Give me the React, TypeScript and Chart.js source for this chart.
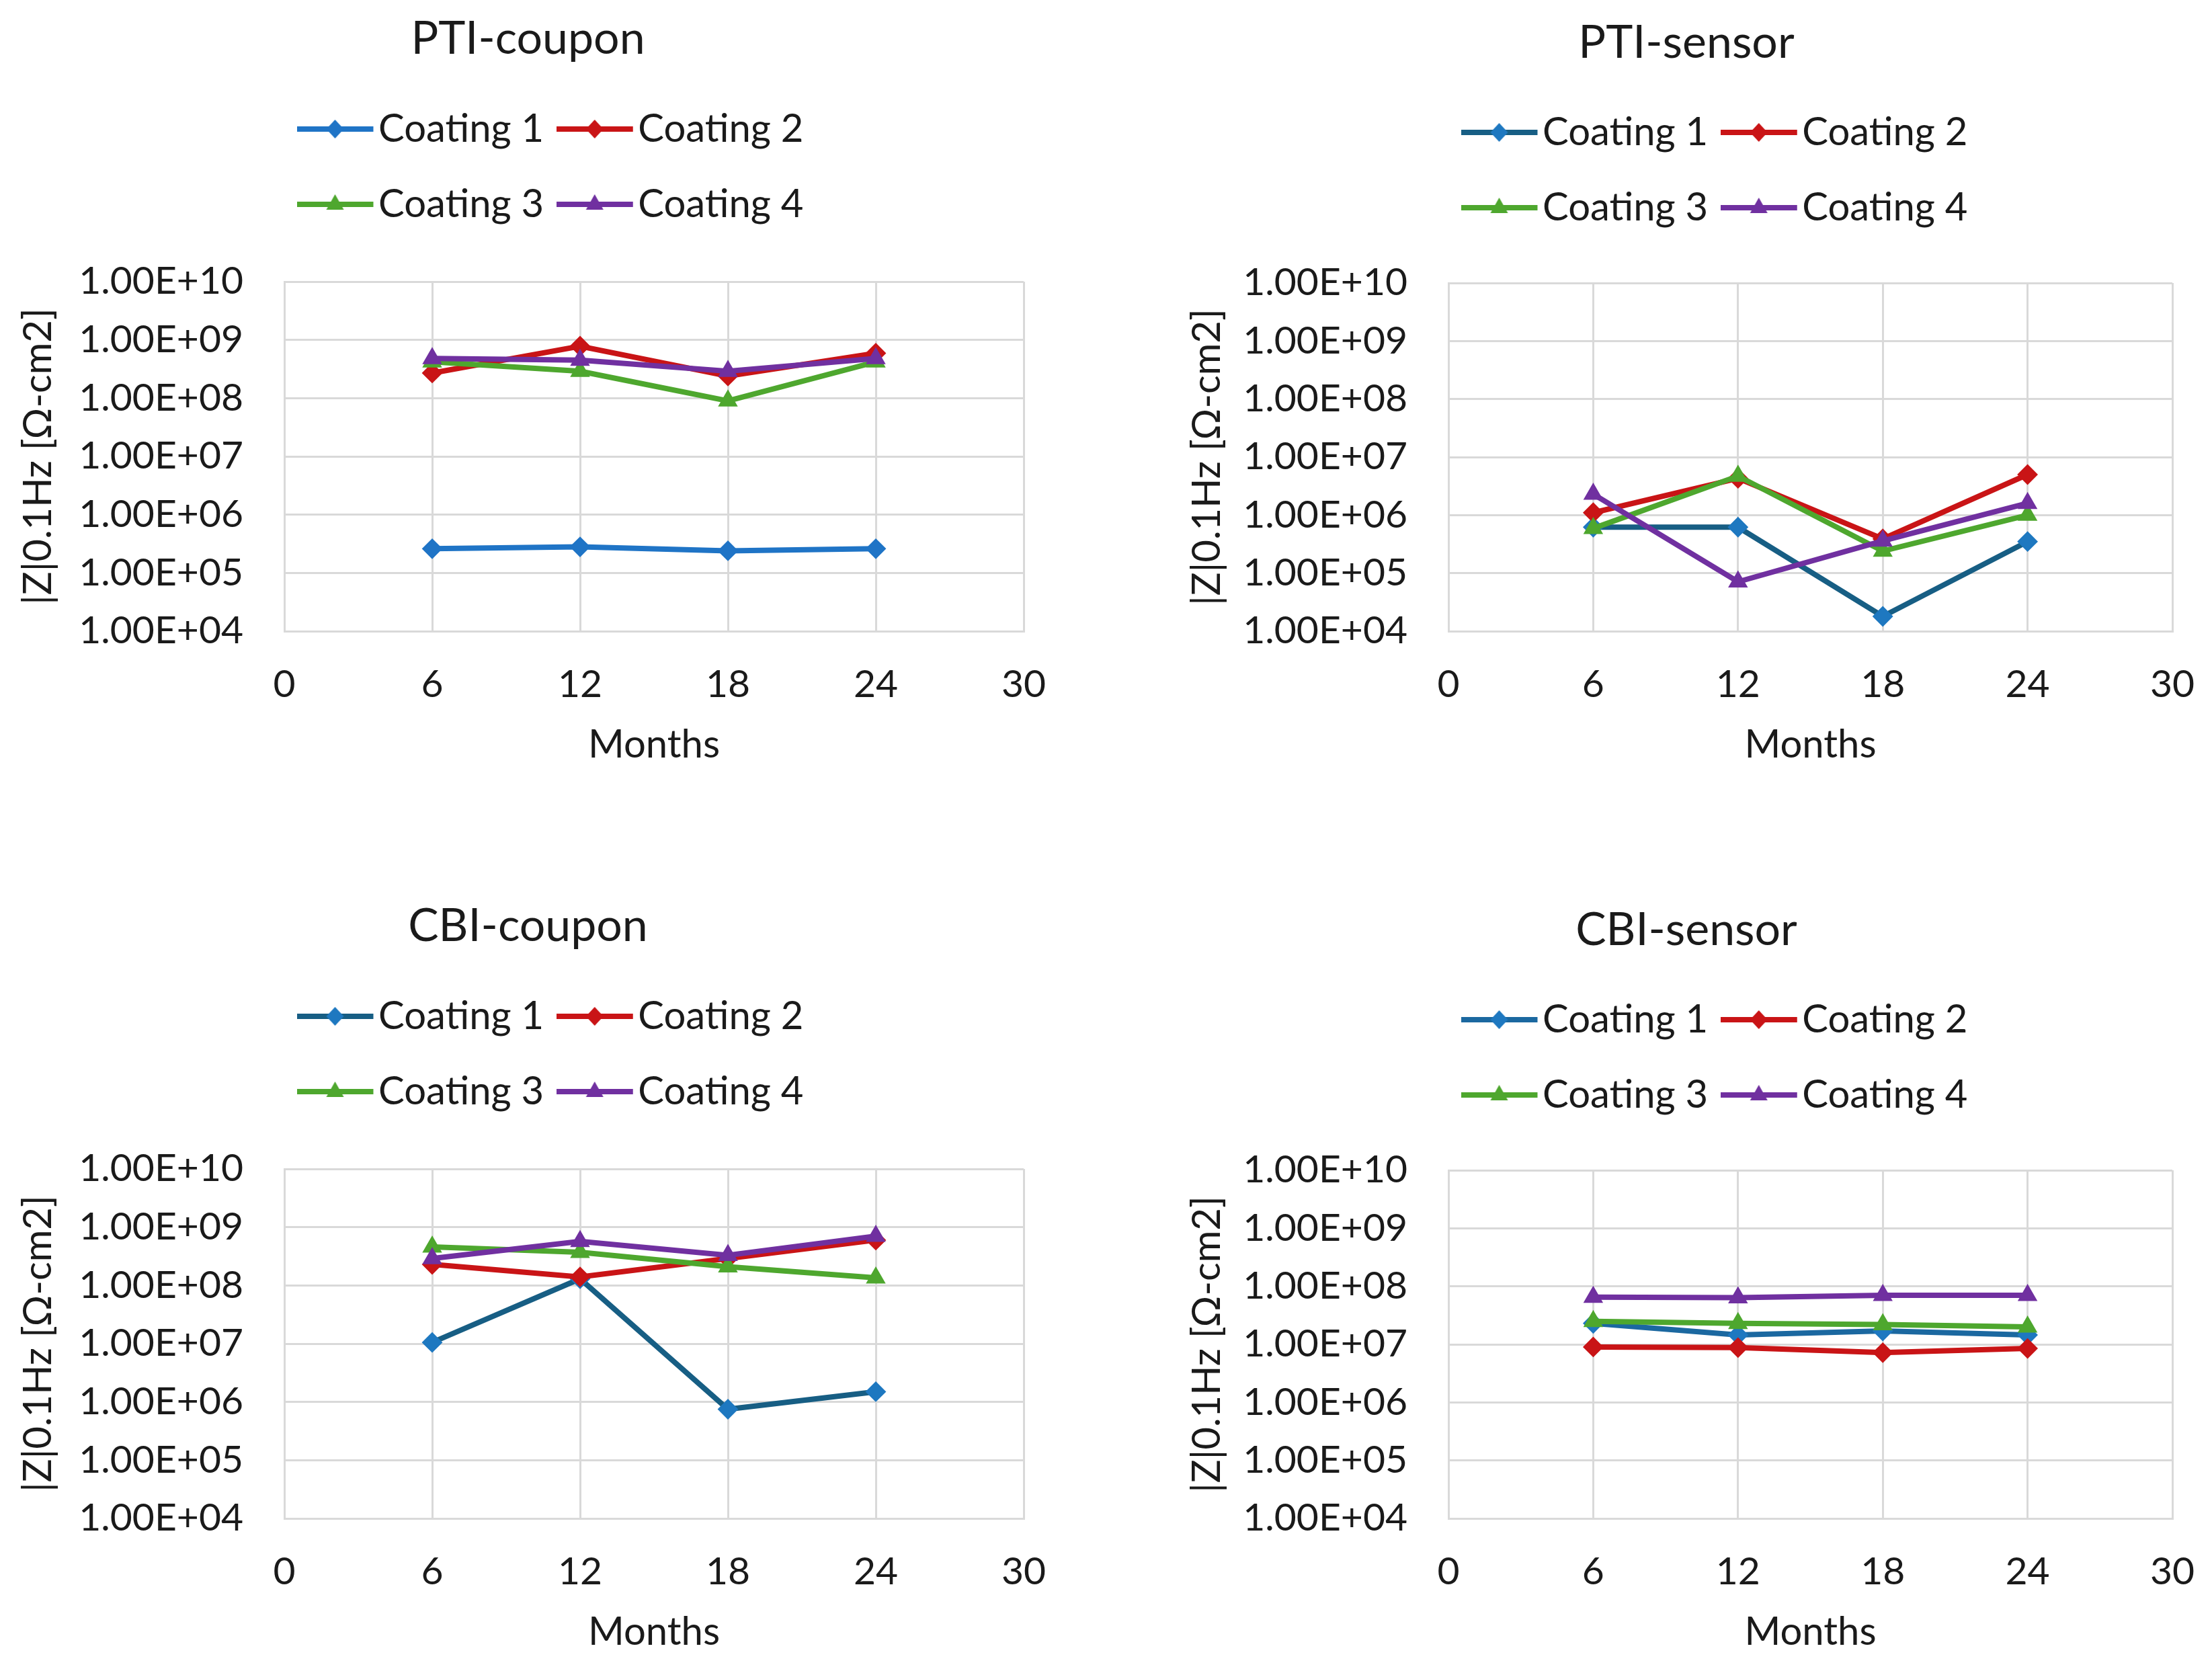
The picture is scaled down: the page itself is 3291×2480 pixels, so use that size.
import React, { useEffect, useRef } from 'react';
import { Chart, registerables } from 'chart.js';

Chart.register(...registerables);

// ---------- data ----------
const months = [6, 12, 18, 24];
const xTickValues = [0, 6, 12, 18, 24, 30];
const xTickLabels = ['0', '6', '12', '18', '24', '30'];
const yTickValues = [1e4, 1e5, 1e6, 1e7, 1e8, 1e9, 1e10];
const yTickLabels = ['1.00E+04', '1.00E+05', '1.00E+06', '1.00E+07', '1.00E+08', '1.00E+09', '1.00E+10'];
const seriesNames = ['Coating 1', 'Coating 2', 'Coating 3', 'Coating 4'];
const yAxisTitle = '|Z|0.1Hz [\u03A9-cm2]';
const xAxisTitle = 'Months';

const ptiCoupon1 = [2.6e5, 2.8e5, 2.4e5, 2.6e5];
const ptiCoupon2 = [2.7e8, 7.8e8, 2.4e8, 5.9e8];
const ptiCoupon3 = [4.2e8, 2.9e8, 9.0e7, 4.2e8];
const ptiCoupon4 = [4.8e8, 4.5e8, 2.9e8, 4.8e8];

const ptiSensor1 = [6.2e5, 6.2e5, 1.8e4, 3.5e5];
const ptiSensor2 = [1.1e6, 4.3e6, 3.9e5, 5.0e6];
const ptiSensor3 = [5.9e5, 4.7e6, 2.4e5, 1.0e6];
const ptiSensor4 = [2.3e6, 7.1e4, 3.6e5, 1.6e6];

const cbiCoupon1 = [1.05e7, 1.3e8, 7.5e5, 1.5e6];
const cbiCoupon2 = [2.3e8, 1.4e8, 2.9e8, 6.0e8];
const cbiCoupon3 = [4.6e8, 3.7e8, 2.1e8, 1.35e8];
const cbiCoupon4 = [2.9e8, 5.7e8, 3.3e8, 7.0e8];

const cbiSensor1 = [2.3e7, 1.45e7, 1.7e7, 1.45e7];
const cbiSensor2 = [9.0e6, 8.8e6, 7.2e6, 8.5e6];
const cbiSensor3 = [2.5e7, 2.3e7, 2.2e7, 2.0e7];
const cbiSensor4 = [6.5e7, 6.4e7, 7.0e7, 7.0e7];

// ---------- styles / layout ----------
const FONT = 'Lato, "Noto Sans", sans-serif';
const TEXT = '#1a1a1a';
const GRID = '#d9d9d9';
const RED = '#c91416';
const GREEN = '#4ea72e';
const PURPLE = '#7030a0';
const SHAPES = ['rectRot', 'rectRot', 'triangle', 'triangle'];

type Spec = {
  title: string;
  series: number[][];
  c1Line: string;
  c1Marker: string;
  x0: number; y0: number; w: number; h: number;
  padL: number; padB: number; yW: number; xPadR: number;
  tTop: number; tBot: number; spacer: number;
};

const left = { x0: 0, w: 1560, padL: 11, yW: 412, xPadR: 37, tTop: 17.2, tBot: 10.2, spacer: 76 };
const right = { x0: 1740, w: 1528, padL: 10, yW: 405, xPadR: 36, tTop: 23.2, tBot: 9.2, spacer: 73 };

const panels: Spec[] = [
  { title: 'PTI-coupon', series: [ptiCoupon1, ptiCoupon2, ptiCoupon3, ptiCoupon4], c1Line: '#1f74c6', c1Marker: '#1f74c6', ...left, y0: 0, h: 1170, padB: 27 },
  { title: 'PTI-sensor', series: [ptiSensor1, ptiSensor2, ptiSensor3, ptiSensor4], c1Line: '#175e84', c1Marker: '#1e78c0', ...right, y0: 0, h: 1170, padB: 27 },
  { title: 'CBI-coupon', series: [cbiCoupon1, cbiCoupon2, cbiCoupon3, cbiCoupon4], c1Line: '#175e84', c1Marker: '#1e78c0', ...left, y0: 1320, h: 1160, padB: 17 },
  { title: 'CBI-sensor', series: [cbiSensor1, cbiSensor2, cbiSensor3, cbiSensor4], c1Line: '#1b68a0', c1Marker: '#1e78c0', ...right, y0: 1320, h: 1160, padB: 17 },
];

function makeGlyph(line: string, marker: string, shape: string): HTMLCanvasElement {
  const c = document.createElement('canvas');
  c.width = 128;
  c.height = 36;
  const g = c.getContext('2d') as CanvasRenderingContext2D;
  g.strokeStyle = line;
  g.lineWidth = 8;
  g.beginPath();
  g.moveTo(0, 18);
  g.lineTo(114, 18);
  g.stroke();
  g.fillStyle = marker;
  g.beginPath();
  if (shape === 'triangle') {
    g.moveTo(57, 3);
    g.lineTo(70, 26);
    g.lineTo(44, 26);
  } else {
    g.moveTo(57, 4);
    g.lineTo(70, 18);
    g.lineTo(57, 32);
    g.lineTo(44, 18);
  }
  g.closePath();
  g.fill();
  return c;
}

function Panel({ spec }: { spec: Spec }) {
  const ref = useRef<HTMLCanvasElement>(null);
  useEffect(() => {
    const lineColors = [spec.c1Line, RED, GREEN, PURPLE];
    const markerColors = [spec.c1Marker, RED, GREEN, PURPLE];
    const glyphs = seriesNames.map((_, i) => makeGlyph(lineColors[i], markerColors[i], SHAPES[i]));
    const chart = new Chart(ref.current as HTMLCanvasElement, {
      type: 'line',
      data: {
        datasets: seriesNames.map((name, i) => ({
          label: name,
          data: months.map((m, j) => ({ x: m, y: spec.series[i][j] })),
          borderColor: lineColors[i],
          backgroundColor: markerColors[i],
          pointBackgroundColor: markerColors[i],
          pointBorderColor: markerColors[i],
          pointBorderWidth: 2,
          pointRadius: SHAPES[i] === 'triangle' ? 15 : 14,
          pointStyle: SHAPES[i] as any,
          borderWidth: 8,
          tension: 0,
          order: 4 - i,
        })),
      },
      options: {
        animation: false,
        responsive: false,
        devicePixelRatio: 1,
        events: [],
        layout: { autoPadding: false, padding: { left: spec.padL, right: 0, top: 0, bottom: spec.padB } },
        font: { family: FONT },
        color: TEXT,
        plugins: {
          tooltip: { enabled: false },
          title: {
            display: true,
            text: spec.title,
            color: TEXT,
            font: { family: FONT, size: 68, weight: 'normal', lineHeight: 1.2 },
            padding: { top: spec.tTop, bottom: spec.tBot },
          },
          subtitle: {
            display: true,
            text: '',
            position: 'top',
            weight: 500,
            font: { family: FONT, size: 1, lineHeight: 1 },
            padding: { top: spec.spacer - 1, bottom: 0 },
          } as any,
          legend: {
            display: true,
            position: 'top',
            align: 'start',
            fullSize: false,
            labels: {
              usePointStyle: true,
              pointStyleWidth: 57,
              padding: 54,
              color: TEXT,
              font: { family: FONT, size: 58 },
              generateLabels: (ch: any) =>
                ch.data.datasets.map((ds: any, i: number) => ({
                  text: ds.label,
                  pointStyle: glyphs[i],
                  fillStyle: 'transparent',
                  strokeStyle: 'transparent',
                  lineWidth: 0,
                  hidden: false,
                  datasetIndex: i,
                  fontColor: TEXT,
                })),
            },
          } as any,
        },
        scales: {
          x: {
            type: 'linear',
            min: 0,
            max: 30,
            afterBuildTicks: (s: any) => {
              s.ticks = xTickValues.map((v) => ({ value: v }));
            },
            afterFit: (s: any) => {
              s.height = 204;
              s.paddingRight = spec.xPadR;
              s.paddingLeft = 0;
            },
            grid: { color: GRID, lineWidth: 3, drawTicks: false },
            border: { display: true, color: GRID, width: 3 },
            ticks: {
              autoSkip: false,
              maxRotation: 0,
              padding: 45,
              color: TEXT,
              font: { family: FONT, size: 57 },
              callback: (_v: any, i: number) => xTickLabels[i],
            },
            title: {
              display: true,
              text: xAxisTitle,
              color: TEXT,
              font: { family: FONT, size: 58, lineHeight: 1.2 },
              padding: 0,
            },
          },
          y: {
            type: 'logarithmic',
            min: 1e4,
            max: 1e10,
            afterBuildTicks: (s: any) => {
              s.ticks = yTickValues.map((v) => ({ value: v }));
            },
            afterFit: (s: any) => {
              s.width = spec.yW;
            },
            grid: { color: GRID, lineWidth: 3, drawTicks: false },
            border: { display: true, color: GRID, width: 3 },
            ticks: {
              autoSkip: false,
              padding: 61,
              color: TEXT,
              font: { family: FONT, size: 57 },
              callback: (_v: any, i: number) => yTickLabels[i],
            },
            title: {
              display: true,
              text: yAxisTitle,
              color: TEXT,
              font: { family: FONT, size: 58, lineHeight: 1.6 },
              padding: 0,
            },
          },
        },
      } as any,
    });
    return () => chart.destroy();
  }, [spec]);
  return (
    <div style={{ position: 'absolute', left: spec.x0, top: spec.y0, width: spec.w, height: spec.h }}>
      <canvas ref={ref} width={spec.w} height={spec.h} style={{ width: spec.w, height: spec.h, display: 'block' }} />
    </div>
  );
}

export default function App() {
  return (
    <div style={{ position: 'absolute', left: 0, top: 0, width: 3291, height: 2480, background: '#ffffff', overflow: 'hidden' }}>
      {panels.map((p) => (
        <Panel key={p.title} spec={p} />
      ))}
    </div>
  );
}
